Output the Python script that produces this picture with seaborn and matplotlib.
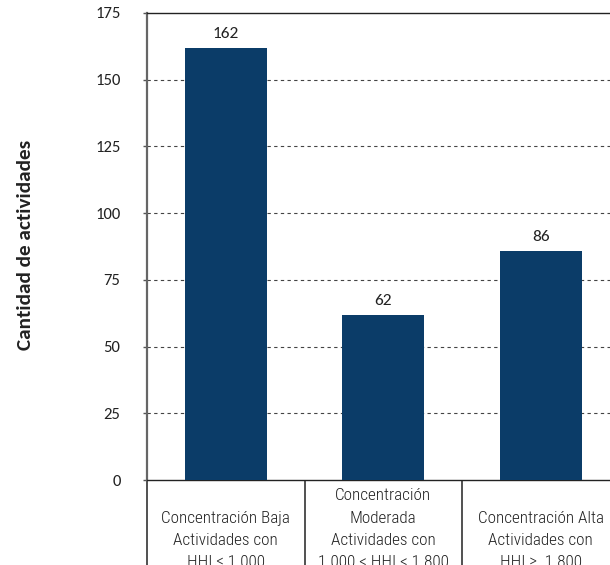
import matplotlib
matplotlib.use("Agg")
import matplotlib.pyplot as plt
import matplotlib.transforms as mtransforms
import seaborn as sns
import pandas as pd

categorias = [
    "Concentración Baja\nActividades con\nHHI ≤ 1.000",
    "Concentración\nModerada\nActividades con\n1.000 < HHI < 1.800",
    "Concentración Alta\nActividades con\nHHI ≥  1.800",
]
actividades = [162, 62, 86]
yticks = [0, 25, 50, 75, 100, 125, 150, 175]

sns.set_style("white")
plt.rcParams["font.family"] = ["Carlito", "DejaVu Sans"]

color_barra = "#0b3c68"
texto = "#222222"
df = pd.DataFrame({"categoria": categorias, "actividades": actividades})

fig = plt.figure(figsize=(6.10, 5.65), dpi=100)
ax = fig.add_axes([147 / 610, 85 / 565, 472.5 / 610, 467 / 565])

sns.barplot(data=df, x="categoria", y="actividades", color=color_barra,
            width=0.52, saturation=1, linewidth=0, ax=ax, zorder=3)

ax.set_ylim(0, 175)
ax.set_xlim(-0.5, 2.5)
ax.set_yticks(yticks)
ax.set_yticklabels([str(v) for v in yticks], fontsize=12, color=texto)
ax.tick_params(axis="y", length=3, width=1, color="#555555", pad=16, left=True)

# dashed horizontal gridlines
for v in yticks[1:-1]:
    ax.axhline(v, color="#444444", lw=0.8, ls=(0, (3, 3)), zorder=1)

# spines
ax.spines["left"].set_color("#666666")
ax.spines["left"].set_linewidth(1.6)
ax.spines["top"].set_color("#222222")
ax.spines["top"].set_linewidth(1.0)
ax.spines["bottom"].set_color("#222222")
ax.spines["bottom"].set_linewidth(1.0)
ax.spines["right"].set_visible(False)

# category boxes: separators below the axis
ax.set_xticks([])
ax.set_xticks([-0.5, 0.5, 1.5, 2.5], minor=True)
ax.tick_params(axis="x", which="minor", length=70, width=1.2, color="#333333",
               direction="out", bottom=True)
ax.set_xlabel("")
ax.set_ylabel("")

trans = mtransforms.blended_transform_factory(ax.transData, ax.transAxes)
for i, lab in enumerate(categorias):
    ax.text(i, -87 / 467, lab, transform=trans, ha="center", va="baseline",
            multialignment="center", fontsize=12.3, linespacing=1.6,
            family=["Roboto Condensed", "DejaVu Sans"], fontweight=300, color=texto)

# value labels
for i, v in enumerate(actividades):
    ax.annotate(str(v), (i, v), xytext=(0, 5), textcoords="offset points",
                ha="center", va="bottom", fontsize=12.5, color=texto)

fig.text(26 / 610, 1 - 245 / 565, "Cantidad de actividades", rotation=90,
         ha="center", va="center", fontsize=15.3, fontweight="bold", color=texto)

fig.savefig("out.png", dpi=100)
